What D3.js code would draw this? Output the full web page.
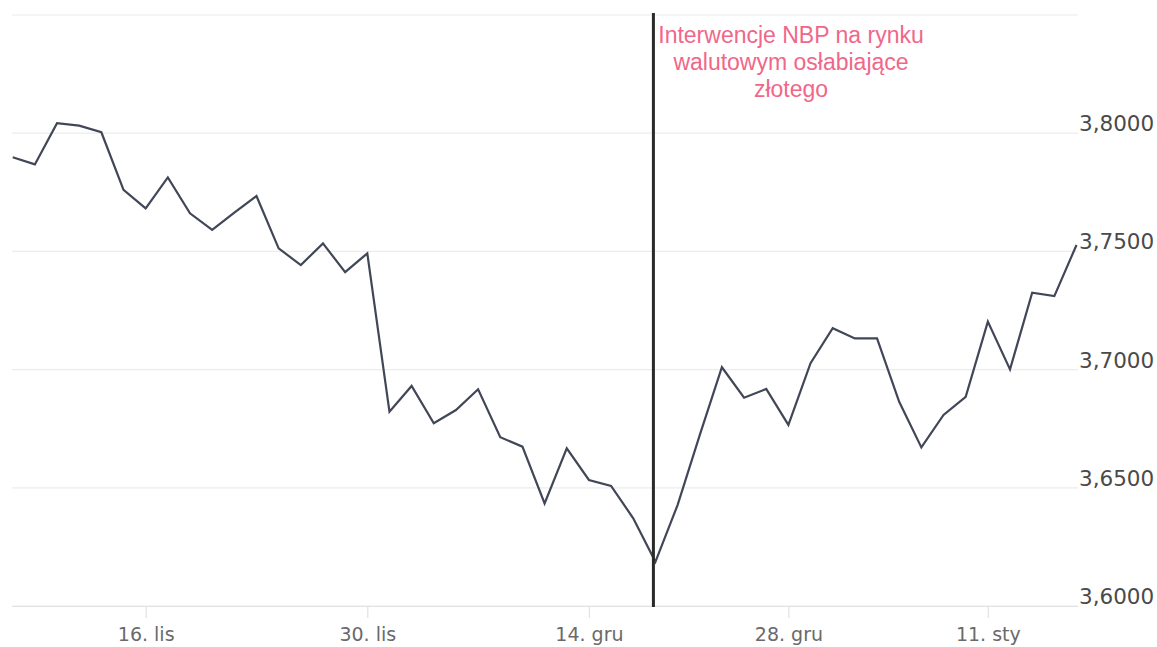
<!DOCTYPE html>
<html>
<head>
<meta charset="utf-8">
<script src="https://cdn.jsdelivr.net/npm/d3@7"></script>
<style>
  html, body { margin: 0; padding: 0; background: #ffffff; }
  svg { display: block; }
</style>
</head>
<body>
<svg id="chart" width="1157" height="647"></svg>
<script>
// ---- data (USD/PLN, business days Nov 2020 – Jan 2021) ----
const dates = [
  "2020-11-06","2020-11-09","2020-11-10","2020-11-11","2020-11-12","2020-11-13",
  "2020-11-16","2020-11-17","2020-11-18","2020-11-19","2020-11-20",
  "2020-11-23","2020-11-24","2020-11-25","2020-11-26","2020-11-27",
  "2020-11-30","2020-12-01","2020-12-02","2020-12-03","2020-12-04",
  "2020-12-07","2020-12-08","2020-12-09","2020-12-10","2020-12-11",
  "2020-12-14","2020-12-15","2020-12-16","2020-12-17","2020-12-18",
  "2020-12-21","2020-12-22","2020-12-23","2020-12-24",
  "2020-12-28","2020-12-29","2020-12-30","2020-12-31",
  "2021-01-04","2021-01-05","2021-01-06","2021-01-07","2021-01-08",
  "2021-01-11","2021-01-12","2021-01-13","2021-01-14","2021-01-15"
];
const rates = [
  3.7898, 3.7868, 3.8042, 3.8032, 3.8004, 3.7760,
  3.7682, 3.7813, 3.7661, 3.7591, 3.7664,
  3.7734, 3.7513, 3.7442, 3.7534, 3.7412,
  3.7492, 3.6822, 3.6931, 3.6773, 3.6829,
  3.6917, 3.6714, 3.6674, 3.6434, 3.6667,
  3.6533, 3.6508, 3.6371, 3.6187, 3.6427,
  3.6723, 3.7010, 3.6881, 3.6918,
  3.6766, 3.7027, 3.7175, 3.7132,
  3.7132, 3.6864, 3.6671, 3.6808, 3.6885,
  3.7203, 3.7001, 3.7325, 3.7311, 3.7527
];
const xTickDates  = ["2020-11-16","2020-11-30","2020-12-14","2020-12-28","2021-01-11"];
const xTickLabels = ["16. lis","30. lis","14. gru","28. gru","11. sty"];
const yGridValues = [3.60, 3.65, 3.70, 3.75, 3.80, 3.85];
const yTickValues = [3.60, 3.65, 3.70, 3.75, 3.80];
const yTickLabels = ["3,6000","3,6500","3,7000","3,7500","3,8000"];
const eventDate   = "2020-12-17";
const eventLabel  = ["Interwencje NBP na rynku", "walutowym osłabiające", "złotego"];

// ---- layout ----
const plot = { left: 12, right: 1078, top: 15, bottom: 606 };
const svg = d3.select("#chart");

// ordinal-style x axis (index of trading day)
const x = d3.scaleLinear().domain([0, dates.length - 1]).range([12.7, 1076.5]);
const y = d3.scaleLinear().domain([3.60, 3.85]).range([plot.bottom, plot.top]);

// grid lines
svg.append("g").selectAll("line").data(yGridValues).join("line")
  .attr("x1", plot.left).attr("x2", plot.right)
  .attr("y1", d => y(d)).attr("y2", d => y(d))
  .attr("stroke", "#ececec").attr("stroke-width", 1.2);

// y labels (right side, slightly above grid lines)
svg.append("g").selectAll("text").data(yTickValues).join("text")
  .attr("x", 1079).attr("y", d => y(d) - 2)
  .attr("font-family", "DejaVu Sans, sans-serif")
  .attr("font-size", 21.5).attr("fill", "#4a4a4a")
  .text((d, i) => yTickLabels[i]);

// x axis
const xAxis = d3.axisBottom(x)
  .tickValues(xTickDates.map(d => dates.indexOf(d)))
  .tickFormat((d, i) => xTickLabels[i])
  .tickSize(12).tickPadding(10);
const gx = svg.append("g").attr("transform", `translate(0,${plot.bottom})`).call(xAxis);
gx.select(".domain").attr("d", `M${plot.left},0.5H${plot.right}`).attr("stroke", "#e2e2e2").attr("stroke-width", 1.2);
gx.selectAll(".tick line").attr("stroke", "#e2e2e2").attr("stroke-width", 1.2);
gx.selectAll(".tick text")
  .attr("font-family", "DejaVu Sans, sans-serif")
  .attr("font-size", 19).attr("fill", "#6a6a6a");

// series line
const line = d3.line().x((d, i) => x(i)).y(d => y(d));
svg.append("path").datum(rates)
  .attr("d", line)
  .attr("fill", "none")
  .attr("stroke", "#414757")
  .attr("stroke-width", 2.2)
  .attr("stroke-linejoin", "miter");

// event line
const ex = x(dates.indexOf(eventDate)) - 2;
svg.append("line")
  .attr("x1", ex).attr("x2", ex)
  .attr("y1", plot.top - 2).attr("y2", plot.bottom + 1)
  .attr("stroke", "#2a2a2a").attr("stroke-width", 3);

// event label
svg.append("g").selectAll("text").data(eventLabel).join("text")
  .attr("x", 791).attr("y", (d, i) => 43 + i * 27)
  .attr("text-anchor", "middle")
  .attr("font-family", "Liberation Sans, Arial, sans-serif")
  .attr("font-size", 23)
  .attr("fill", "#f0678a")
  .text(d => d);
</script>
</body>
</html>
